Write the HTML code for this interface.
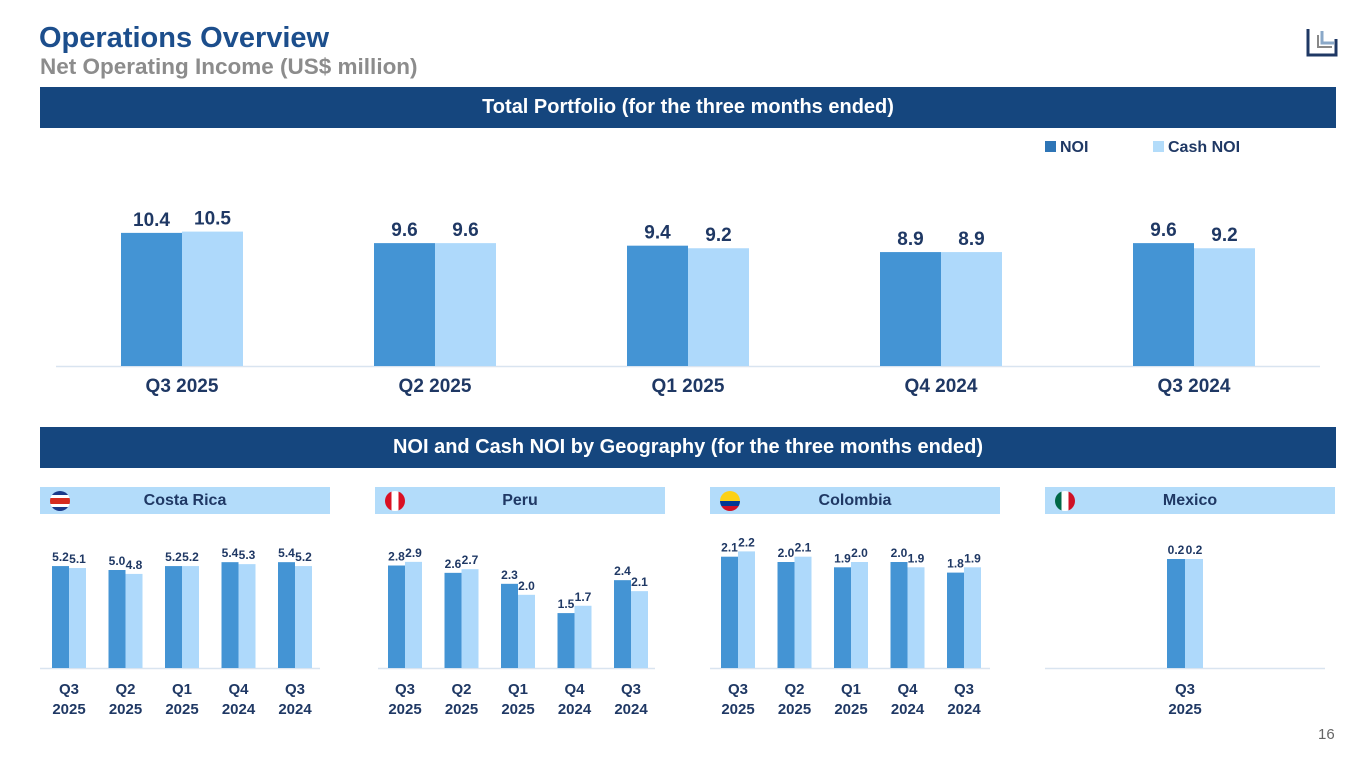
<!DOCTYPE html>
<html><head><meta charset="utf-8"><style>
body{margin:0;width:1365px;height:768px;background:#fff;font-family:"Liberation Sans",sans-serif;overflow:hidden;position:relative}
.abs{position:absolute}
.band{position:absolute;left:40px;width:1296px;height:41px;background:#15467e;color:#fff;font-weight:bold;font-size:20px;text-align:center;line-height:41px}
.geo{position:absolute;top:487px;height:27px;width:290px;background:#b3dcfa;color:#1f3864;font-weight:bold;font-size:16px;line-height:27px;text-align:center}
.flag{position:absolute;top:4px;left:10px;width:20px;height:20px;border-radius:50%;overflow:hidden}
</style></head><body>
<div class="abs" style="left:39px;top:22px;font-size:29px;font-weight:bold;color:#1c4e8c">Operations Overview</div>
<div class="abs" style="left:40px;top:54px;font-size:22.5px;font-weight:bold;color:#8c8c8c">Net Operating Income (US$ million)</div>
<svg class="abs" style="left:1306px;top:27px" width="32" height="30"><path d="M2 2V28H30V12" fill="none" stroke="#1f3864" stroke-width="3"/><path d="M16 4V16H28" fill="none" stroke="#8aa8c8" stroke-width="3"/><path d="M12 8V20H26" fill="none" stroke="#888" stroke-width="2"/></svg>
<div class="band" style="top:87px">Total Portfolio (for the three months ended)</div>
<div class="band" style="top:427px">NOI and Cash NOI by Geography (for the three months ended)</div>
<div class="abs" style="left:1045px;top:139px;font-size:16px;font-weight:bold;color:#1f3864"><span style="display:inline-block;width:11px;height:11px;background:#2e75b6;margin-right:4px"></span>NOI</div>
<div class="abs" style="left:1153px;top:139px;font-size:16px;font-weight:bold;color:#1f3864"><span style="display:inline-block;width:11px;height:11px;background:#b3dcfa;margin-right:4px"></span>Cash NOI</div>
<div class="geo" style="left:40px"><div class="flag" style="background:linear-gradient(#1a3a8a 0 20%,#fff 20% 35%,#d52b1e 35% 65%,#fff 65% 80%,#1a3a8a 80%)"></div>Costa Rica</div>
<div class="geo" style="left:375px"><div class="flag" style="background:linear-gradient(90deg,#d91023 0 33%,#fff 33% 67%,#d91023 67%)"></div>Peru</div>
<div class="geo" style="left:710px"><div class="flag" style="background:linear-gradient(#fcd116 0 50%,#003893 50% 75%,#ce1126 75%)"></div>Colombia</div>
<div class="geo" style="left:1045px"><div class="flag" style="background:linear-gradient(90deg,#006847 0 33%,#fff 33% 67%,#ce1126 67%)"></div>Mexico</div>
<div class="abs" style="left:1318px;top:726px;font-size:15px;color:#666">16</div>
<svg id="chart" class="abs" style="left:0;top:0" width="1365" height="768"></svg>
<script>
const totalCats=["Q3 2025","Q2 2025","Q1 2025","Q4 2024","Q3 2024"];
const totalNoi=[10.4,9.6,9.4,8.9,9.6];
const totalCash=[10.5,9.6,9.2,8.9,9.2];
const geoCats=[["Q3","2025"],["Q2","2025"],["Q1","2025"],["Q4","2024"],["Q3","2024"]];
const crNoi=[5.2,5.0,5.2,5.4,5.4];
const crCash=[5.1,4.8,5.2,5.3,5.2];
const peNoi=[2.8,2.6,2.3,1.5,2.4];
const peCash=[2.9,2.7,2.0,1.7,2.1];
const coNoi=[2.1,2.0,1.9,2.0,1.8];
const coCash=[2.2,2.1,2.0,1.9,1.9];
const mxCats=[["Q3","2025"]];
const mxNoi=[0.2];
const mxCash=[0.2];
const svg=document.getElementById('chart');
const NS='http://www.w3.org/2000/svg';
function mk(t,a,txt){const e=document.createElementNS(NS,t);for(const k in a)e.setAttribute(k,a[k]);if(txt!==undefined)e.textContent=txt;svg.appendChild(e);return e;}
function chart(name,cats,noi,cash,o){
  const y=v=>o.base-v*o.ppu;
  const l=mk('line',{x1:o.ax0,x2:o.ax1,y1:o.base+0.5,y2:o.base+0.5,stroke:'#d9e4f0','stroke-width':1.5});
  
  
  cats.forEach((c,i)=>{
    const cx=o.x0+i*o.step;
    [[noi[i],'#4494d4',-o.bw,'noi'],[cash[i],'#aed9fb',0,'cash']].forEach(([v,col,dx,s])=>{
      const r=mk('rect',{x:cx+dx,y:y(v),width:o.bw,height:v*o.ppu,fill:col});
      
      
      const t=mk('text',{x:cx+dx+o.bw/2,y:y(v)-o.lg,'text-anchor':'middle','font-size':o.fs,'font-weight':'bold',fill:'#1f3864'},v.toFixed(1));
      
      
    });
    const lines=Array.isArray(c)?c:[c];
    lines.forEach((ln,j)=>{
      const t=mk('text',{x:cx,y:o.ly+j*o.lh,'text-anchor':'middle','font-size':o.cfs,'font-weight':'bold',fill:'#1f3864'},ln);
      
      
    });
  });
}
chart('total',totalCats,totalNoi,totalCash,{base:366,ppu:12.8,x0:182,step:253,bw:61,ax0:56,ax1:1320,fs:19,lg:7,ly:392,lh:0,cfs:19});
const small={ppu:0,base:668,bw:17,step:56.5,fs:12,lg:5,ly:694,lh:20,cfs:15};
chart('costa-rica',geoCats,crNoi,crCash,Object.assign({},small,{ppu:19.6,x0:69,ax0:40,ax1:320}));
chart('peru',geoCats,peNoi,peCash,Object.assign({},small,{ppu:36.6,x0:405,ax0:378,ax1:655}));
chart('colombia',geoCats,coNoi,coCash,Object.assign({},small,{ppu:53,x0:738,ax0:710,ax1:990}));
chart('mexico',mxCats,mxNoi,mxCash,Object.assign({},small,{ppu:545,x0:1185,bw:18,ax0:1045,ax1:1325}));
</script>
</body></html>
